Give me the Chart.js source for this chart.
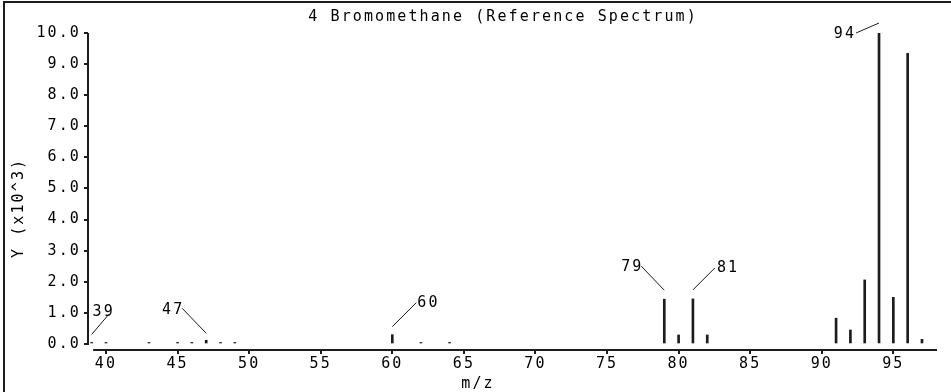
<!DOCTYPE html>
<html>
<head>
<meta charset="utf-8">
<script src="https://cdn.jsdelivr.net/npm/chart.js@4.4.1/dist/chart.umd.min.js"></script>
<style>
    body { margin: 0; background: #fff; }
    #wrap { width: 951px; height: 392px; position: relative; }
</style>
</head>
<body>
<div id="wrap"><canvas id="spectrum-chart"></canvas></div>
<script>
// m/z values and intensities (x10^3)
var mz = [39, 40, 43, 45, 46, 47, 48, 49, 60, 62, 64, 79, 80, 81, 82, 91, 92, 93, 94, 95, 96, 97];
var intensity = [0.05, 0.05, 0.05, 0.05, 0.05, 0.12, 0.05, 0.05, 0.3, 0.05, 0.05, 1.44, 0.29, 1.45, 0.29, 0.83, 0.45, 2.06, 10.0, 1.5, 9.35, 0.15];
var labelledPeaks = [39, 47, 60, 79, 81, 94];
var xTicks = [40, 45, 50, 55, 60, 65, 70, 75, 80, 85, 90, 95];
var yTicks = [0, 1, 2, 3, 4, 5, 6, 7, 8, 9, 10];

var FONT = 'DejaVu Sans Mono';
var FONT_SIZE = 15;
var SPACING = 2.1;
var INK = '#1c1c1c';

// leader line offsets from the bar top: [x1, y1, x2, y2, textX, textY, align]
var leader = {
    39: [0, -8, 17, -28, 11, -30, 'center'],
    47: [0, -7, -24, -32, -24, -30, 'right'],
    60: [0, -8, 24, -32, 25, -32, 'left'],
    79: [0, -9, -23, -33, -23, -32, 'right'],
    81: [0, -9, 22, -31, 24, -31, 'left'],
    94: [0, -10, -23, 0, -25, 1, 'right']
};

var spectrumChart;

var decorPlugin = {
    id: 'decor',
    beforeDraw: function (chart) {
        chart.ctx.letterSpacing = SPACING + 'px';
    },
    afterDraw: function (chart) {
        var ctx = chart.ctx;
        var area = chart.chartArea;
        var xs = chart.scales.x;
        var ys = chart.scales.y;
        ctx.save();
        ctx.letterSpacing = SPACING + 'px';
        ctx.strokeStyle = INK;
        ctx.fillStyle = '#000';

        // frame edges (left and top only)
        ctx.lineWidth = 2;
        ctx.beginPath();
        ctx.moveTo(4, 392);
        ctx.lineTo(4, 2);
        ctx.lineTo(951, 2);
        ctx.stroke();

        // axis lines
        ctx.beginPath();
        ctx.moveTo(area.left, area.top);
        ctx.lineTo(area.left, ys.getPixelForValue(0) + 1);
        ctx.moveTo(xs.getPixelForValue(39.1), area.bottom);
        ctx.lineTo(area.right, area.bottom);
        ctx.stroke();

        // chart title and axis titles
        ctx.font = FONT_SIZE + 'px "' + FONT + '"';
        ctx.textAlign = 'center';
        ctx.textBaseline = 'middle';
        ctx.fillText('4 Bromomethane (Reference Spectrum)', 502 + SPACING / 2, 17);
        ctx.fillText('m/z', 477 + SPACING / 2, 384);
        ctx.save();
        ctx.translate(19, 209);
        ctx.rotate(-Math.PI / 2);
        ctx.fillText('Y (x10^3)', SPACING / 2, 0);
        ctx.restore();

        // peak labels with leader lines
        var bars = chart.getDatasetMeta(0).data;
        ctx.lineWidth = 1;
        labelledPeaks.forEach(function (m) {
            var bar = bars[mz.indexOf(m)];
            var o = leader[m];
            ctx.beginPath();
            ctx.moveTo(bar.x + o[0], bar.y + o[1]);
            ctx.lineTo(bar.x + o[2], bar.y + o[3]);
            ctx.stroke();
            ctx.textAlign = o[6];
            var tx = bar.x + o[4];
            if (o[6] === 'right') tx += SPACING;
            if (o[6] === 'center') tx += SPACING / 2;
            ctx.fillText(String(m), tx, bar.y + o[5]);
        });
        ctx.restore();
    }
};

function createSpectrumChart() {
    var ctx = document.getElementById('spectrum-chart').getContext('2d');

    if (spectrumChart) {
        spectrumChart.destroy();
    }

    spectrumChart = new Chart(ctx, {
        type: 'bar',
        data: {
            datasets: [
                {
                    data: mz.map(function (m, i) { return { x: m, y: intensity[i] }; }),
                    backgroundColor: INK,
                    borderWidth: 0,
                    barThickness: 2
                }
            ]
        },
        options: {
            responsive: true,
            maintainAspectRatio: false,
            animation: false,
            layout: { padding: { left: 0, right: 14, top: 33, bottom: 0 } },
            plugins: {
                legend: { display: false },
                tooltip: { enabled: false },
                title: { display: false }
            },
            scales: {
                x: {
                    type: 'linear',
                    offset: false,
                    min: 38.743,
                    max: 98.05,
                    afterFit: function (scale) { scale.height = 42; },
                    afterBuildTicks: function (scale) {
                        scale.ticks = xTicks.map(function (v) { return { value: v }; });
                    },
                    ticks: {
                        color: '#000',
                        padding: 1,
                        maxRotation: 0,
                        autoSkip: false,
                        font: { family: FONT, size: FONT_SIZE },
                        callback: function (v) { return String(v); }
                    },
                    grid: {
                        offset: false,
                        drawOnChartArea: false,
                        drawTicks: true,
                        tickLength: 4,
                        color: INK,
                        lineWidth: 2
                    },
                    border: { display: false }
                },
                y: {
                    min: -0.193,
                    max: 10,
                    afterFit: function (scale) { scale.width = 88; },
                    afterBuildTicks: function (scale) {
                        scale.ticks = yTicks.map(function (v) { return { value: v }; });
                    },
                    ticks: {
                        color: '#000',
                        padding: 3,
                        autoSkip: false,
                        font: { family: FONT, size: FONT_SIZE },
                        callback: function (v) { return v.toFixed(1); }
                    },
                    grid: {
                        drawOnChartArea: false,
                        drawTicks: true,
                        tickLength: 4,
                        color: INK,
                        lineWidth: 2
                    },
                    border: { display: false }
                }
            }
        },
        plugins: [decorPlugin]
    });
}

createSpectrumChart();
</script>
</body>
</html>
